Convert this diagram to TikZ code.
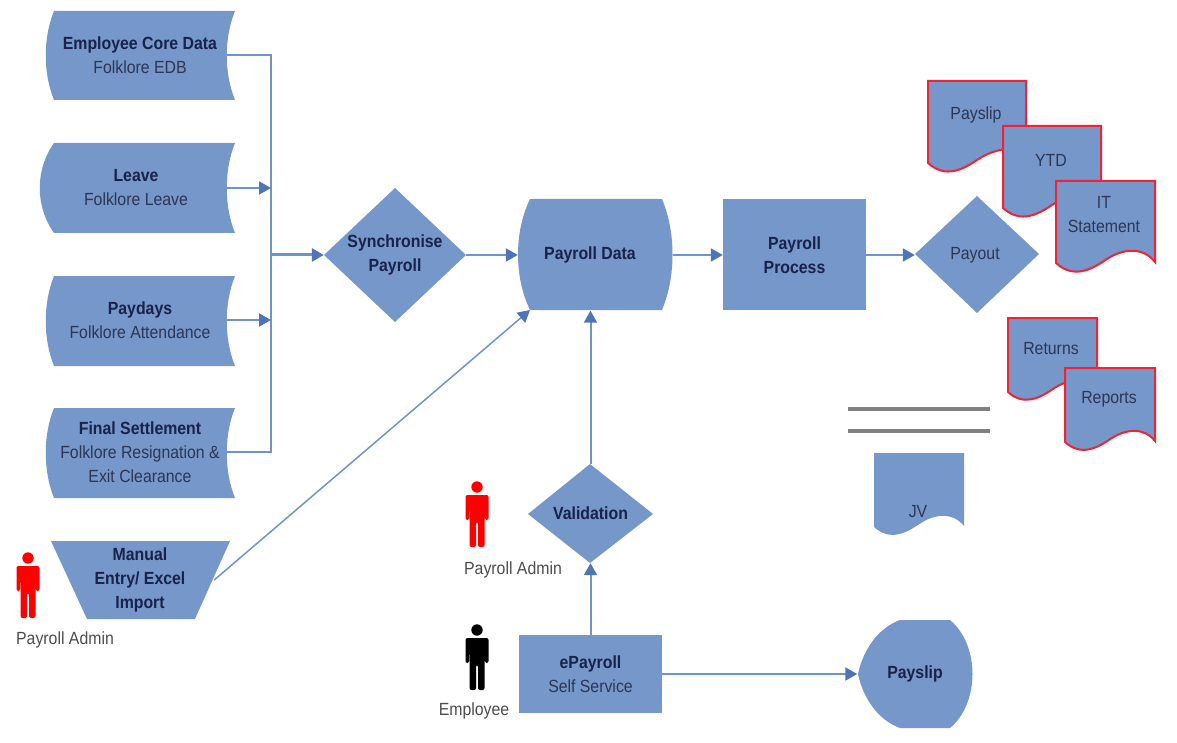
\documentclass[tikz,border=0pt]{standalone}
\usepackage{fontspec}
\setmainfont[FakeStretch=0.9]{Liberation Sans}
\usetikzlibrary{arrows.meta}
\definecolor{shapeblue}{HTML}{7597C9}
\definecolor{linkblue}{HTML}{7093CB}
\definecolor{tipblue}{HTML}{4F74B8}
\definecolor{inkdark}{HTML}{18224A}
\definecolor{inkreg}{HTML}{2C3655}
\definecolor{docred}{HTML}{EE2436}
\definecolor{rulegray}{HTML}{808080}
\tikzset{
  flowshape/.style={fill=shapeblue,draw=none},
  docshape/.style={fill=shapeblue,draw=docred,line width=2pt,line join=miter},
  label/.style={draw=none,inner sep=0pt,align=center,text=inkdark,font=\fontsize{17.6}{24}\selectfont},
  boldlabel/.style={label,font=\fontsize{17.6}{24}\selectfont\bfseries},
  plain/.style={label,text=inkreg},
  caption/.style={draw=none,inner sep=0pt,align=center,text=black!70,font=\fontsize{17.6}{24}\selectfont},
  link/.style={draw=linkblue,line width=2pt},
  flow/.style={link,-{Triangle[length=12pt,width=13pt,color=tipblue]}},
  heavy/.style={flow,line width=3pt},
}
\newcommand{\personfig}[3]{%
  \begin{scope}[shift={(#1,#2)}]
    \fill[#3] (0,6) circle (5.7);
    \fill[#3,rounded corners=2pt] (-11.5,14) -- (11.5,14) -- (11.5,39) -- (8,39) -- (7.5,22) -- (7.5,66) -- (1,66) -- (1,41) -- (-1,41) -- (-1,66) -- (-7.5,66) -- (-7.5,22) -- (-8,39) -- (-11.5,39) -- cycle;
  \end{scope}}
\newcommand{\docfig}[6]{% style, x1, x2, top, L, right end
  \pgfmathsetmacro{\dw}{#3-#2}
  \pgfmathsetmacro{\amp}{\dw/98}
  \path[#1] (#2,#4) -- (#3,#4) -- (#3,#6)
    .. controls ({#2+.88*\dw},{#5-16*\amp}) and ({#2+.68*\dw},{#5-15*\amp}) .. ({#2+.5*\dw},{#5-3*\amp})
    .. controls ({#2+.36*\dw},{#5+6.3*\amp}) and ({#2+.18*\dw},{#5+16*\amp}) .. (#2,#5) -- cycle;}
\begin{document}
\begin{tikzpicture}[x=1pt,y=-1pt]
\useasboundingbox (0,0) rectangle (1177,743);
% left stack shapes
\path[flowshape] (54,11) -- (235,11) .. controls (224,38) and (224,73) .. (235,100) -- (54,100) .. controls (43,73) and (43,38) .. (54,11) -- cycle;
\path[flowshape] (54,143) -- (235,143) .. controls (224,170) and (224,206) .. (235,233) -- (54,233) .. controls (35,206) and (35,170) .. (54,143) -- cycle;
\path[flowshape] (54,276) -- (235,276) .. controls (224,303) and (224,339) .. (235,366) -- (54,366) .. controls (43,339) and (43,303) .. (54,276) -- cycle;
\path[flowshape] (54,408) -- (235,408) .. controls (224,435) and (224,471) .. (235,498) -- (54,498) .. controls (43,471) and (43,435) .. (54,408) -- cycle;
\path[flowshape] (51,541) -- (230,541) -- (195,619) -- (87,619) -- cycle;
% centre shapes
\path[flowshape] (324,255) -- (395,188) -- (466,255) -- (395,322) -- cycle;
\path[flowshape] (530,199) -- (662,199) .. controls (676,232) and (676,277) .. (662,310) -- (530,310) .. controls (514,277) and (514,232) .. (530,199) -- cycle;
\path[flowshape] (723,199) rectangle (866,310);
\path[flowshape] (915,254) -- (977,196) -- (1039,254) -- (977,313) -- cycle;
\path[flowshape] (528,514) -- (590,464) -- (653,514) -- (590,563) -- cycle;
\path[flowshape] (519,635) rectangle (662,713);
\path[flowshape] (900,620) -- (950,620) .. controls (980,645) and (980,703) .. (950,728) -- (900,728) .. controls (878,720) and (863,698) .. (858,674) .. controls (863,650) and (878,628) .. (900,620) -- cycle;
% documents
\docfig{docshape}{928}{1026}{81}{163}{150}
\docfig{docshape}{1003}{1101}{126}{208}{190}
\docfig{docshape}{1056}{1155}{181}{263}{262}
\docfig{docshape}{1008}{1097}{318}{392}{380}
\docfig{docshape}{1065}{1155}{368}{442}{441}
\docfig{flowshape}{874}{964}{453}{527}{526}
% people
\personfig{28}{552}{red}
\personfig{477}{481}{red}
\personfig{477}{624}{black}
% rules
\draw[rulegray,line width=3.2pt] (848,409) -- (990,409);
\draw[rulegray,line width=3.2pt] (848,431) -- (990,431);
% text nodes
\node[label,minimum width=174pt] (emp) at (140,55) {\textbf{Employee Core Data}\\\textcolor{inkreg}{Folklore EDB}};
\node[label,minimum width=182pt] (lea) at (136,188) {\textbf{Leave}\\\textcolor{inkreg}{Folklore Leave}};
\node[label,minimum width=174pt] (pay) at (140,320) {\textbf{Paydays}\\\textcolor{inkreg}{Folklore Attendance}};
\node[label,minimum width=174pt] (fin) at (140,452) {\textbf{Final Settlement}\\\textcolor{inkreg}{Folklore Resignation \&}\\\textcolor{inkreg}{Exit Clearance}};
\node[boldlabel,minimum width=148pt] (man) at (140,580) {Manual\\Entry/ Excel\\Import};
\node[boldlabel,minimum width=142pt,minimum height=134pt] (syn) at (395,255) {Synchronise\\Payroll};
\node[boldlabel,minimum width=155pt,minimum height=111pt] (pda) at (595.5,255) {\hspace*{-11pt}Payroll Data};
\node[boldlabel,minimum width=143pt,minimum height=111pt] (pro) at (794.5,255) {Payroll\\Process};
\node[plain,minimum width=124pt,minimum height=117pt] (out) at (977,255) {\hspace*{-4pt}Payout};
\node[boldlabel,minimum width=125pt,minimum height=99pt] (val) at (590.5,513.5) {Validation};
\node[label,minimum width=143pt,minimum height=78pt] (epa) at (590.5,674) {\textbf{ePayroll}\\\textcolor{inkreg}{Self Service}};
\node[boldlabel,minimum width=115pt,minimum height=108pt] (psl) at (915,674) {Payslip};
\node[plain] (d1) at (976,115) {Payslip};
\node[plain] (d2) at (1051,160) {YTD};
\node[plain] (d3) at (1104,215) {IT\\Statement};
\node[plain] (d4) at (1051,349) {Returns};
\node[plain] (d5) at (1109,399) {Reports};
\node[plain] (d6) at (918,512) {JV};
\node[caption] (c1) at (65,640) {Payroll Admin};
\node[caption] (c2) at (513,570) {Payroll Admin};
\node[caption] (c3) at (474,711) {Employee};
% connectors
\coordinate (bus) at (271,255);
\coordinate (pdc) at (530,310);
\draw[link] (emp.east) -- (emp.east -| bus) -- (fin.east -| bus) -- (fin.east);
\draw[flow] (lea.east) -- (lea.east -| bus);
\draw[flow] (pay.east) -- (pay.east -| bus);
\draw[heavy] (bus) -- (syn.west);
\draw[flow] (syn.east) -- (pda.west);
\draw[flow] (pda.east) -- (pro.west);
\draw[flow] (pro.east) -- (out.west);
\draw[flow,line width=1.5pt] (man.east) -- (pdc);
\draw[flow] (val.north) -- (val.north |- pda.south);
\draw[flow] (epa.north) -- (val.south);
\draw[flow] (epa.east) -- (psl.west);
\end{tikzpicture}
\end{document}
